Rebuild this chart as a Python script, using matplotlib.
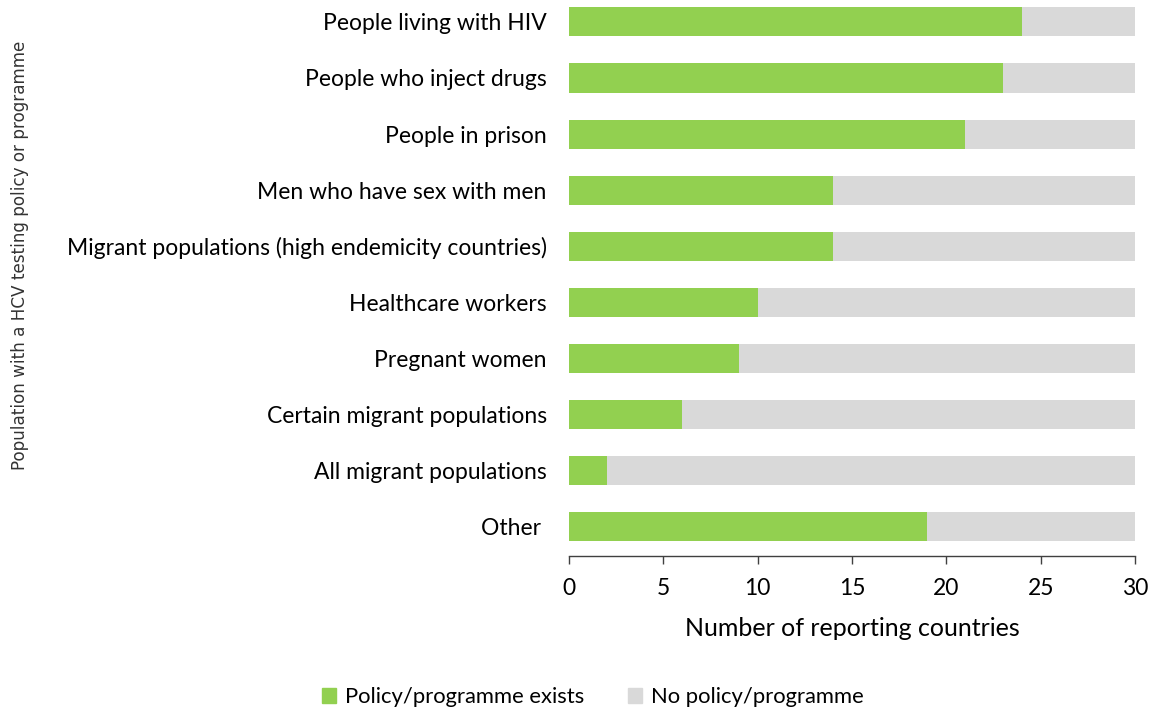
import matplotlib
matplotlib.use("Agg")
import matplotlib.pyplot as plt
from matplotlib.patches import Patch

categories = [
    "People living with HIV",
    "People who inject drugs",
    "People in prison",
    "Men who have sex with men",
    "Migrant populations (high endemicity countries)",
    "Healthcare workers",
    "Pregnant women",
    "Certain migrant populations",
    "All migrant populations",
    "Other ",
]
policy_exists = [24, 23, 21, 14, 14, 10, 9, 6, 2, 19]
no_policy = [6, 7, 9, 16, 16, 20, 21, 24, 28, 11]
xticks = [0, 5, 10, 15, 20, 25, 30]

GREEN = "#92D050"
GREY = "#D9D9D9"
FONT = "Lato"

fig = plt.figure(figsize=(11.52, 7.11), dpi=100)
ax = fig.add_axes([569 / 1152, 155 / 711, (1135 - 569) / 1152, 556 / 711])

n = len(categories)
ypos = [n - 1 - i for i in range(n)]
ax.barh(ypos, policy_exists, height=0.52, color=GREEN, label="Policy/programme exists")
ax.barh(ypos, no_policy, left=policy_exists, height=0.52, color=GREY, label="No policy/programme")

ax.set_xlim(0, 30)
ax.set_ylim(-0.52, 9.39)
ax.set_xticks(xticks)
ax.set_xticklabels([str(t) for t in xticks], fontsize=16.5, family=FONT)
ax.set_yticks(ypos)
ax.set_yticklabels(categories, fontsize=16.5, family=FONT)
ax.tick_params(axis="y", length=0, pad=16)
ax.tick_params(axis="x", length=6, width=1, color="#404040", direction="out", pad=10)

for s in ["top", "right", "left"]:
    ax.spines[s].set_visible(False)
ax.spines["bottom"].set_color("#404040")
ax.spines["bottom"].set_linewidth(1)

ax.set_xlabel("Number of reporting countries", fontsize=18, family=FONT, labelpad=13)

fig.text(20 / 1152, 1 - 255 / 711, "Population with a HCV testing policy or programme",
         rotation=90, ha="center", va="center", fontsize=12.1, family="DejaVu Sans", color="#333333")

handles = [Patch(color=GREEN, label="Policy/programme exists"),
           Patch(color=GREY, label="No policy/programme")]
fig.legend(handles=handles, loc="center", bbox_to_anchor=(593 / 1152, 1 - 697 / 711), ncol=2,
           frameon=False, prop={"family": FONT, "size": 15.8}, handlelength=0.65, handleheight=0.65,
           handletextpad=0.4, columnspacing=2.0)

fig.savefig("out.png", dpi=100)
